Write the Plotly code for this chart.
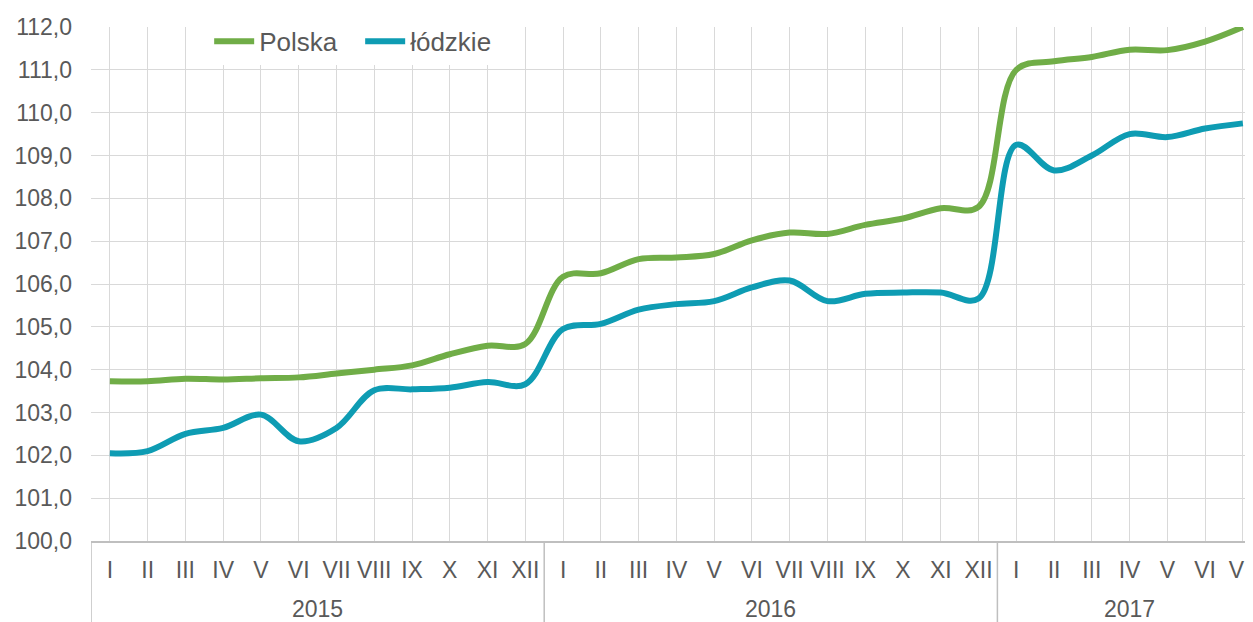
import plotly.graph_objects as go

years = ["2015"] * 12 + ["2016"] * 12 + ["2017"] * 7
months = ["I", "II", "III", "IV", "V", "VI", "VII", "VIII", "IX", "X", "XI", "XII"] * 2 + \
         ["I", "II", "III", "IV", "V", "VI", "VII"]

polska = [103.73, 103.73, 103.79, 103.77, 103.80, 103.82, 103.91, 104.00, 104.10, 104.36, 104.56, 104.60,
          106.17, 106.25, 106.58, 106.62, 106.70, 107.02, 107.20, 107.17, 107.38, 107.53, 107.77, 107.80,
          111.00, 111.20, 111.30, 111.47, 111.46, 111.66, 112.00]
lodzkie = [102.05, 102.10, 102.50, 102.64, 102.95, 102.33, 102.64, 103.52, 103.54, 103.58, 103.71, 103.66,
           104.95, 105.07, 105.40, 105.53, 105.60, 105.92, 106.08, 105.60, 105.77, 105.80, 105.80, 105.66,
           109.25, 108.65, 109.00, 109.50, 109.43, 109.63, 109.75]

FONT = "Liberation Sans, Arial, sans-serif"
GRAY = "#595959"
GRID = "#D9D9D9"
AXIS = "#BFBFBF"
XRANGE = [-0.5, 30.48]

idx = list(range(len(months)))

fig = go.Figure()
fig.add_trace(go.Scatter(x=idx, y=polska, name="Polska", mode="lines",
                         line=dict(color="#70AD47", width=6, shape="spline", smoothing=1.0)))
fig.add_trace(go.Scatter(x=idx, y=lodzkie, name="łódzkie", mode="lines",
                         line=dict(color="#0E9CB3", width=6, shape="spline", smoothing=1.0)))

# year groups: dividers at group boundaries, labels centred on each group
groups = []
for i, yv in enumerate(years):
    if not groups or groups[-1][0] != yv:
        groups.append([yv, i, i])
    else:
        groups[-1][2] = i

for name, start, end in groups:
    fig.add_shape(type="line", xref="x", yref="paper", x0=start - 0.5, x1=start - 0.5,
                  y0=0, y1=-0.2, line=dict(color=AXIS, width=1.5), layer="above")
    fig.add_annotation(x=(start + end) / 2, xref="x", y=-0.1323, yref="paper",
                       text=name, showarrow=False, xanchor="center", yanchor="middle",
                       font=dict(size=23, color=GRAY, family=FONT))

fig.update_layout(
    width=1253, height=622,
    margin=dict(l=83, r=0, t=19, b=89),
    paper_bgcolor="white", plot_bgcolor="white",
    separators=", ",
    font=dict(family=FONT, color=GRAY, size=23),
    showlegend=True,
    legend=dict(orientation="h", x=0.101, y=0.972, xanchor="left", yanchor="middle",
                bgcolor="white", font=dict(size=26, color=GRAY, family=FONT),
                itemwidth=40, tracegroupgap=0, entrywidth=96),
    xaxis=dict(type="linear", range=XRANGE, tickmode="array", tickvals=idx, ticktext=months,
               showgrid=True, gridcolor=GRID, gridwidth=1,
               showline=True, linecolor=AXIS, linewidth=1.5,
               zeroline=False, tickangle=0, ticks="", ticklabelstandoff=8,
               tickfont=dict(size=23, color=GRAY, family=FONT)),
    yaxis=dict(range=[100, 112], dtick=1, tickformat=".1f",
               showgrid=True, gridcolor=GRID, gridwidth=1,
               zeroline=False, showline=False,
               ticklabelstandoff=18,
               tickfont=dict(size=23, color=GRAY, family=FONT)),
)

fig.write_html("out.html")
